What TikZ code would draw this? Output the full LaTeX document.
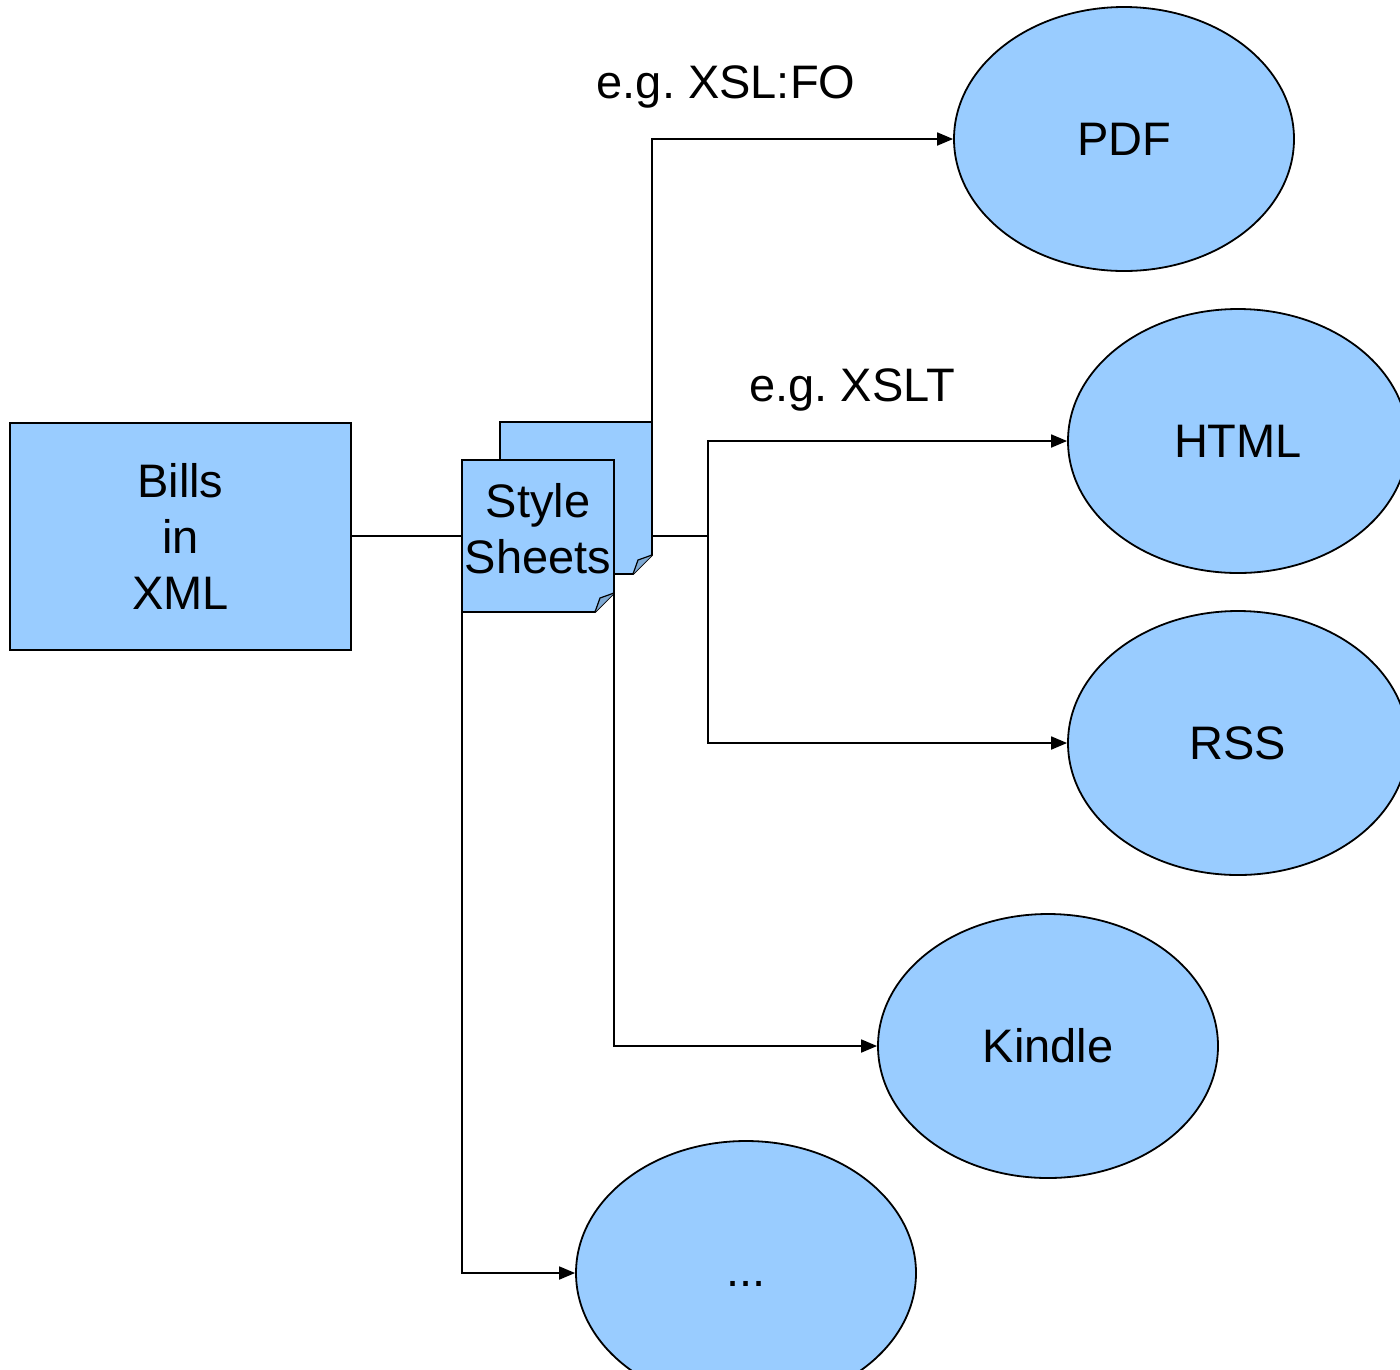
\documentclass[tikz,border=0pt]{standalone}
\usepackage{fontspec}
\setmainfont{Liberation Sans}
\frenchspacing
\usetikzlibrary{arrows.meta,shapes.geometric}
\definecolor{fillblue}{HTML}{99CCFF}
\definecolor{foldblue}{HTML}{7FAAD4}
\tikzset{
  lbl/.style={font=\fontsize{47}{56}\selectfont, align=center, inner sep=0pt},
  oval/.style={ellipse, draw=black, line width=1.8pt, fill=fillblue, minimum width=340pt, minimum height=264pt, inner sep=0pt, font=\fontsize{47}{56}\selectfont},
  conn/.style={line width=1.8pt, black},
  arr/.style={conn, -{Triangle[length=16pt,width=13pt]}},
  sheet/.style={draw=black, line width=1.8pt, fill=fillblue}
}
\begin{document}
\begin{tikzpicture}[x=1pt,y=-1pt]
\useasboundingbox (0,0) rectangle (1400,1369);
\clip (0,0) rectangle (1400,1369);
% Bills box
\node[draw=black, line width=1.8pt, fill=fillblue, minimum width=341pt, minimum height=227pt, inner sep=0pt, lbl, anchor=north west] (bills) at (9,422) {Bills\\in\\XML};
% back sheet
\draw[sheet] (500,422) -- (652,422) -- (652,555) -- (633,574) -- (500,574) -- cycle;
\draw[line width=1.2pt, fill=foldblue] (652,555) -- (638,560) -- (633,574);
% front sheet
\draw[sheet] (462,460) -- (614,460) -- (614,593) -- (595,612) -- (462,612) -- cycle;
\draw[line width=1.2pt, fill=foldblue] (614,593) -- (600,598) -- (595,612);
\node[lbl] (ss) at (538,529) {Style\\Sheets};
% coordinates
\coordinate (bkR) at (652,536);
\coordinate (bkT) at (652,422);
\coordinate (frL) at (462,536);
\coordinate (frBR) at (614,593);
\coordinate (frBL) at (462,612);
\coordinate (jn) at (708,536);
% ellipses
\node[oval] (pdf) at (1124,139) {PDF};
\node[oval] (html) at (1238,441) {HTML};
\node[oval] (rss) at (1238,743) {RSS};
\node[oval] (kindle) at (1048,1046) {Kindle};
\node[oval] (more) at (746,1273) {\raisebox{-13pt}[0pt][0pt]{...}};
% connectors
\draw[conn] (bills.east |- frL) -- (frL);
\draw[conn] (bkR) -- (jn);
\draw[arr] (bkT) |- (pdf.west);
\draw[arr] (jn) |- (html.west);
\draw[arr] (jn) |- (rss.west);
\draw[arr] (frBR) |- (kindle.west);
\draw[arr] (frBL) |- (more.west);
% labels
\node[lbl] (l1) at (726,87) {e.g. XSL:FO};
\node[lbl] (l2) at (852,390) {e.g. XSLT};
\end{tikzpicture}
\end{document}
